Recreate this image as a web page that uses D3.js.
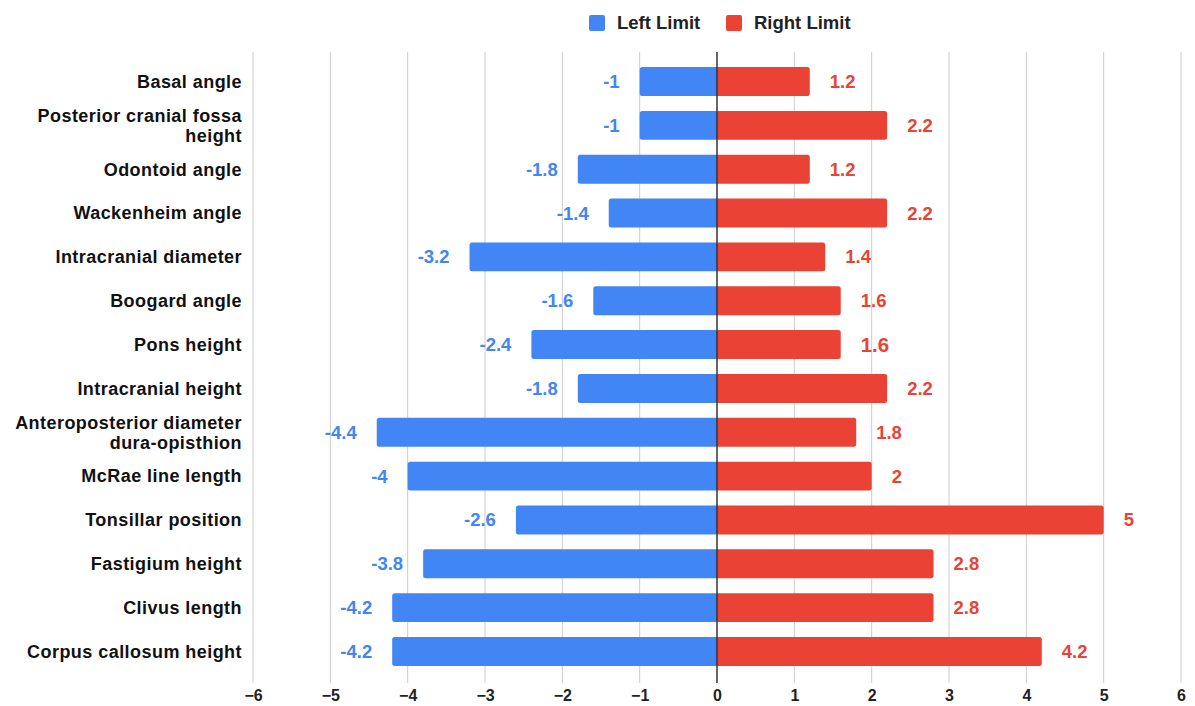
<!DOCTYPE html>
<html>
<head>
<meta charset="utf-8">
<script src="https://cdn.jsdelivr.net/npm/d3@7"></script>
<style>
  html, body { margin: 0; padding: 0; background: #fff; }
  svg { display: block; font-family: "Liberation Sans", Arial, sans-serif; }
</style>
</head>
<body>
<svg id="chart" width="1195" height="706"></svg>
<script>
// Measures and their limits
const categories = [
  "Basal angle",
  "Posterior cranial fossa height",
  "Odontoid angle",
  "Wackenheim angle",
  "Intracranial diameter",
  "Boogard angle",
  "Pons height",
  "Intracranial height",
  "Anteroposterior diameter dura-opisthion",
  "McRae line length",
  "Tonsillar position",
  "Fastigium height",
  "Clivus length",
  "Corpus callosum height"
];
// Wrapped category labels (line breaks)
const categoryLines = [
  ["Basal angle"],
  ["Posterior cranial fossa", "height"],
  ["Odontoid angle"],
  ["Wackenheim angle"],
  ["Intracranial diameter"],
  ["Boogard angle"],
  ["Pons height"],
  ["Intracranial height"],
  ["Anteroposterior diameter", "dura-opisthion"],
  ["McRae line length"],
  ["Tonsillar position"],
  ["Fastigium height"],
  ["Clivus length"],
  ["Corpus callosum height"]
];
const leftLimit  = [-1, -1, -1.8, -1.4, -3.2, -1.6, -2.4, -1.8, -4.4, -4, -2.6, -3.8, -4.2, -4.2];
const rightLimit = [1.2, 2.2, 1.2, 2.2, 1.4, 1.6, 1.6, 2.2, 1.8, 2, 5, 2.8, 2.8, 4.2];
const xTicks = [-6, -5, -4, -3, -2, -1, 0, 1, 2, 3, 4, 5, 6];
const seriesNames = ["Left Limit", "Right Limit"];
const seriesColors = ["#4285F4", "#EA4335"];

const svg = d3.select("#chart");
const FONT = "'Liberation Sans', Arial, sans-serif";

const x = d3.scaleLinear().domain([-6, 6]).range([253, 1181]);
const y = d3.scaleBand()
  .domain(categories)
  .range([59.6, 673.4])
  .paddingInner(0.34)
  .paddingOuter(0.17);

const gridTop = 52, gridBottom = 683;

// vertical gridlines
svg.append("g").selectAll("line")
  .data(xTicks.filter(d => d !== 0))
  .join("line")
  .attr("x1", d => x(d)).attr("x2", d => x(d))
  .attr("y1", gridTop).attr("y2", gridBottom)
  .attr("stroke", "#cccccc").attr("stroke-width", 1);

// bottom axis labels
const xAxis = d3.axisBottom(x).tickValues(xTicks).tickSize(0).tickPadding(0).tickFormat(d3.format("d"));
const gx = svg.append("g").attr("transform", `translate(0, 695)`).call(xAxis);
gx.select(".domain").remove();
gx.selectAll("text")
  .attr("y", 0)
  .attr("dy", "0.35em")
  .attr("font-size", 16).attr("font-weight", "bold").attr("fill", "#222")
  .attr("font-family", FONT);

// bar with rounded outer end
function barPath(v, cat) {
  const r = 2.5;
  const x0 = x(0), x1 = x(v);
  const top = y(cat), h = y.bandwidth(), bot = top + h;
  const s = v >= 0 ? 1 : -1;
  return `M${x0},${top} L${x1 - s * r},${top} Q${x1},${top} ${x1},${top + r} ` +
         `L${x1},${bot - r} Q${x1},${bot} ${x1 - s * r},${bot} L${x0},${bot} Z`;
}

const rows = categories.map((c, i) => ({ c, l: leftLimit[i], r: rightLimit[i] }));

svg.append("g").selectAll("path")
  .data(rows).join("path")
  .attr("d", d => barPath(d.l, d.c))
  .attr("fill", seriesColors[0]);

svg.append("g").selectAll("path")
  .data(rows).join("path")
  .attr("d", d => barPath(d.r, d.c))
  .attr("fill", seriesColors[1]);

// value labels
svg.append("g").selectAll("text")
  .data(rows).join("text")
  .attr("x", d => x(d.l) - 20)
  .attr("y", d => y(d.c) + y.bandwidth() / 2)
  .attr("dy", "0.35em")
  .attr("text-anchor", "end")
  .attr("font-size", 18.5).attr("font-weight", "bold")
  .attr("fill", seriesColors[0])
  .text(d => d.l);

svg.append("g").selectAll("text")
  .data(rows).join("text")
  .attr("x", d => x(d.r) + 20)
  .attr("y", d => y(d.c) + y.bandwidth() / 2)
  .attr("dy", "0.35em")
  .attr("text-anchor", "start")
  .attr("font-size", d => d.c === "Pons height" ? 20.5 : 18.5).attr("font-weight", "bold")
  .attr("fill", seriesColors[1])
  .text(d => d.r);

// zero baseline
svg.append("line")
  .attr("x1", x(0)).attr("x2", x(0))
  .attr("y1", gridTop).attr("y2", gridBottom)
  .attr("stroke", "#333").attr("stroke-width", 1.5);

// category labels
const lineGap = 20;
const catG = svg.append("g").selectAll("text")
  .data(categories).join("text")
  .attr("x", 242)
  .attr("y", (d, i) => {
    const n = categoryLines[i].length;
    return y(d) + y.bandwidth() / 2 - (n - 1) * lineGap / 2;
  })
  .attr("text-anchor", "end")
  .attr("font-size", 18).attr("letter-spacing", 0.45)
  .attr("font-weight", "bold").attr("fill", "#111");
catG.each(function(d, i) {
  d3.select(this).selectAll("tspan")
    .data(categoryLines[i]).join("tspan")
    .attr("x", 242)
    .attr("dy", (t, j) => j === 0 ? "0.35em" : lineGap)
    .text(t => t);
});

// legend
const legend = svg.append("g");
const legendItems = [
  { name: seriesNames[0], color: seriesColors[0], x: 589 },
  { name: seriesNames[1], color: seriesColors[1], x: 726 }
];
legendItems.forEach(it => {
  legend.append("rect")
    .attr("x", it.x).attr("y", 15).attr("width", 16).attr("height", 16)
    .attr("rx", 2).attr("fill", it.color);
  legend.append("text")
    .attr("x", it.x + 28).attr("y", 23).attr("dy", "0.35em")
    .attr("font-size", 18.5).attr("font-weight", "bold").attr("fill", "#222")
    .text(it.name);
});
</script>
</body>
</html>
